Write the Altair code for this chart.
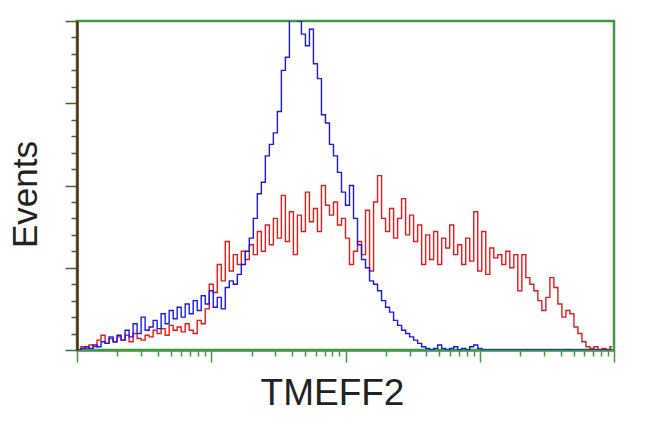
import altair as alt
import numpy as np
import pandas as pd

# Histogram counts per channel (134 log-spaced channels across 4 decades)
blue = [0, 1, 2, 1, 3, 2, 5, 4, 8, 5,
        9, 6, 12, 8, 16, 10, 20, 12, 14, 18,
        13, 22, 16, 24, 19, 26, 20, 28, 22, 30,
        24, 33, 28, 36, 26, 32, 25, 38, 42, 40,
        46, 52, 60, 68, 80, 95, 102, 118, 125, 132,
        145, 170, 178, 205, 205, 200, 192, 185, 195, 174,
        165, 143, 138, 125, 118, 108, 96, 88, 100, 80,
        64, 55, 50, 42, 40, 36, 30, 26, 23, 18,
        15, 12, 10, 8, 6, 4, 2, 1, 0, 1,
        3, 1, 0, 1, 2, 0, 1, 0, 2, 3,
        1, 0, 0, 0, 0, 0, 0, 0, 0, 0,
        0, 0, 0, 0, 0, 0, 0, 0, 0, 0,
        0, 0, 0, 0, 0, 0, 0, 0, 0, 0,
        0, 0, 0, 0]

red = [0, 2, 1, 3, 2, 6, 9, 4, 7, 5,
       8, 6, 9, 5, 10, 7, 6, 9, 8, 12,
       10, 13, 9, 15, 12, 14, 11, 16, 12, 10,
       18, 16, 25, 40, 35, 52, 42, 66, 48, 58,
       52, 60, 55, 64, 58, 72, 60, 76, 64, 80,
       68, 94, 66, 84, 58, 82, 72, 96, 78, 86,
       72, 100, 88, 82, 90, 76, 80, 68, 52, 60,
       66, 58, 85, 48, 90, 106, 80, 72, 86, 68,
       80, 92, 70, 82, 66, 76, 52, 70, 55, 72,
       52, 68, 62, 76, 58, 64, 52, 68, 54, 84,
       48, 72, 46, 62, 56, 58, 52, 60, 50, 58,
       36, 58, 44, 40, 36, 30, 24, 32, 44, 38,
       28, 20, 24, 22, 14, 10, 5, 2, 1, 2,
       0, 1, 0, 2]

x_ticks = [m * 10 ** d for d in range(4) for m in range(1, 10)] + [10000]
y_ticks = list(range(0, 201, 10))

n = len(blue)
edges = np.logspace(0, 4, n + 1)
centers = np.sqrt(edges[:-1] * edges[1:])

df_blue = pd.DataFrame({"x": centers, "count": blue})
df_red = pd.DataFrame({"x": centers, "count": red})

GREEN = "#3f9b3f"
BROWN = "#5b3015"

x_enc = alt.X(
    "x:Q",
    scale=alt.Scale(type="log", domain=[1, 10000], nice=False),
    axis=alt.Axis(
        values=x_ticks, labels=False, grid=False,
        domainColor=GREEN, domainWidth=2.5,
        tickColor=GREEN, tickWidth=1.5,
        tickSize={"condition": {"test": "datum.value == 1 || datum.value == 10 || datum.value == 100 || datum.value == 1000 || datum.value == 10000", "value": 12}, "value": 6},
        title="TMEFF2", titleFont="Liberation Sans", titleFontSize=37,
        titleFontWeight="normal", titleColor="#222222",
        titleX=255, titleY=43, titleAlign="center", titleBaseline="middle",
    ),
)
y_enc = alt.Y(
    "count:Q",
    scale=alt.Scale(domain=[0, 200], nice=False),
    axis=alt.Axis(
        values=y_ticks, labels=False, grid=False,
        domainColor=BROWN, domainWidth=2.5,
        tickColor="#3d6b2a", tickWidth=1.5,
        tickSize={"condition": {"test": "datum.value % 50 == 0", "value": 12}, "value": 6},
        title="Events", titleFont="Liberation Sans", titleFontSize=35,
        titleFontWeight="normal", titleColor="#222222", titleAngle=270,
        titleX=-52, titleY=173, titleAlign="center", titleBaseline="middle",
    ),
)

red_line = alt.Chart(df_red).mark_line(
    interpolate="step", color="#e21b1b", strokeWidth=1.4, clip=True
).encode(x=x_enc, y=y_enc)

blue_line = alt.Chart(df_blue).mark_line(
    interpolate="step", color="#1a1ae6", strokeWidth=1.4, clip=True
).encode(x=x_enc, y=y_enc)

chart = alt.layer(red_line, blue_line).properties(
    width=537, height=329,
    autosize=alt.AutoSizeParams(type="none"),
    padding={"left": 69, "top": 13, "right": 20, "bottom": 74},
    background="white",
).configure_view(stroke=GREEN, strokeWidth=2.5)

chart.save("out.html", embed_options={"renderer": "svg", "actions": False})
